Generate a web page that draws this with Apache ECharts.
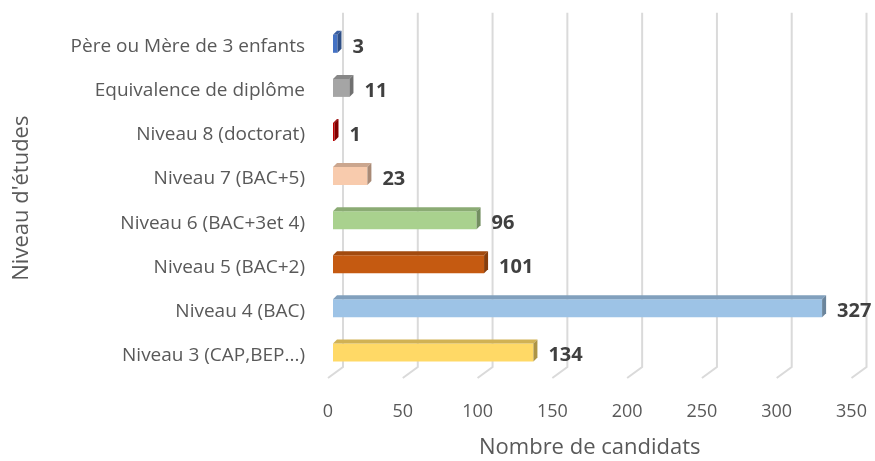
<!DOCTYPE html>
<html>
<head>
<meta charset="utf-8">
<script src="https://cdn.jsdelivr.net/npm/echarts@6/dist/echarts.min.js"></script>
<style>
html,body{margin:0;padding:0;background:#fff;}
#chart{width:875px;height:461px;}
</style>
</head>
<body>
<div id="chart"></div>
<script>
// Data (bottom to top)
const categories = [
  'Niveau 3 (CAP,BEP...)',
  'Niveau 4 (BAC)',
  'Niveau 5 (BAC+2)',
  'Niveau 6 (BAC+3et 4)',
  'Niveau 7 (BAC+5)',
  'Niveau 8 (doctorat)',
  'Equivalence de diplôme',
  'Père ou Mère de 3 enfants'
];
const values = [134, 327, 101, 96, 23, 1, 11, 3];
const xTicks = [0, 50, 100, 150, 200, 250, 300, 350];
const xTitle = 'Nombre de candidats';
const yTitle = "Niveau d'études";

// Styles
const barColors = ['#FFD966', '#9DC3E6', '#C55A11', '#A9D18E', '#F8CBAD', '#C00000', '#A5A5A5', '#4472C4'];
const FONT = 'Open Sans';
const DEPTH = 4;
const BAR_H = 18;

function shade(hex, f) {
  const n = parseInt(hex.slice(1), 16);
  const r = Math.round(((n >> 16) & 255) * f);
  const g = Math.round(((n >> 8) & 255) * f);
  const b = Math.round((n & 255) * f);
  return 'rgb(' + r + ',' + g + ',' + b + ')';
}

const chart = echarts.init(document.getElementById('chart'), null, {renderer: 'canvas'});

const option = {
  animation: false,
  backgroundColor: '#ffffff',
  grid: {left: 333, right: 18.5, top: 21.75, bottom: 86.5, containLabel: false, outerBoundsMode: 'none'},
  xAxis: {
    type: 'value',
    min: xTicks[0],
    max: xTicks[xTicks.length - 1],
    interval: xTicks[1] - xTicks[0],
    axisLine: {show: false},
    axisTick: {show: false},
    splitLine: {show: false},
    axisLabel: {color: '#595959', fontSize: 18, fontFamily: FONT, margin: 28, padding: [0, 10, 0, 0]},
    name: xTitle,
    nameLocation: 'middle',
    nameGap: 62,
    nameTextStyle: {color: '#595959', fontSize: 22, fontFamily: FONT, padding: [0, 10, 0, 0]}
  },
  yAxis: {
    type: 'category',
    data: categories,
    axisLine: {show: false},
    axisTick: {show: false},
    axisLabel: {
      color: '#595959', fontSize: 19, fontFamily: FONT, margin: 28,
      formatter: function (v) { return '{a|' + v + '}'; },
      rich: {a: {color: '#595959', fontSize: 19, fontFamily: FONT, padding: [6, 0, 0, 0]}}
    },
    name: yTitle,
    nameLocation: 'middle',
    nameGap: 300,
    nameRotate: 90,
    nameTextStyle: {color: '#595959', fontSize: 22, fontFamily: FONT}
  },
  series: [
    {
      type: 'custom',
      z: 1,
      silent: true,
      data: xTicks,
      encode: {x: 0},
      renderItem: function (params, api) {
        const v = api.value(0);
        const x = api.coord([v, 0])[0];
        const cs = params.coordSys;
        return {
          type: 'polyline',
          shape: {points: [[x + 10, cs.y - 9], [x + 10, cs.y + cs.height - 7.5], [x - 5, cs.y + cs.height + 3.5]]},
          style: {stroke: '#DADADA', lineWidth: 2, fill: null}
        };
      }
    },
    {
      type: 'bar',
      z: 3,
      barWidth: BAR_H,
      data: values.map(function (v, i) { return {value: v, itemStyle: {color: barColors[i]}}; }),
      label: {
        show: true,
        position: 'right',
        distance: 15,
        offset: [0, 3],
        color: '#404040',
        fontSize: 20,
        fontWeight: 'bold',
        fontFamily: FONT
      }
    },
    {
      type: 'custom',
      z: 4,
      silent: true,
      data: values.map(function (v, i) { return [v, i]; }),
      encode: {x: 0, y: 1},
      renderItem: function (params, api) {
        const v = api.value(0);
        const idx = api.value(1);
        const p0 = api.coord([0, idx]);
        const p1 = api.coord([v, idx]);
        const x0 = p0[0], x1 = p1[0], cy = p0[1];
        const t = cy - BAR_H / 2, b = cy + BAR_H / 2;
        const c = barColors[idx];
        return {
          type: 'group',
          children: [
            {
              type: 'polygon',
              shape: {points: [[x0, t], [x1, t], [x1 + DEPTH, t - DEPTH], [x0 + DEPTH, t - DEPTH]]},
              style: {fill: shade(c, 0.82)}
            },
            {
              type: 'polygon',
              shape: {points: [[x1, t], [x1 + DEPTH, t - DEPTH], [x1 + DEPTH, b - DEPTH], [x1, b]]},
              style: {fill: shade(c, 0.68)}
            }
          ]
        };
      }
    }
  ]
};
chart.setOption(option);
</script>
</body>
</html>
